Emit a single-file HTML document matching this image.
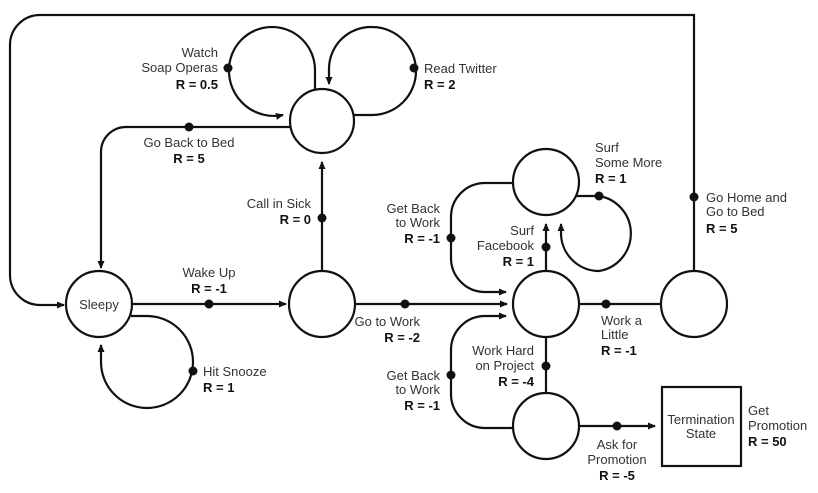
<!DOCTYPE html>
<html><head><style>
html,body{margin:0;padding:0;background:#fff;}
svg text{font-family:"Liberation Sans",sans-serif;font-size:13px;fill:#333;}
svg text.b{font-weight:bold;fill:#111;}
</style></head><body>
<svg width="818" height="488" viewBox="0 0 818 488" xmlns="http://www.w3.org/2000/svg">
<defs>
<marker id="a" markerWidth="8" markerHeight="8" refX="7" refY="4" orient="auto" markerUnits="userSpaceOnUse">
<path d="M0,0.5 L8,4 L0,7.5 Z" fill="#111"/>
</marker>
</defs>
<g fill="none" stroke="#111" stroke-width="2.2">
<!-- nodes -->
<circle cx="99" cy="304" r="33"/>
<circle cx="322" cy="304" r="33"/>
<circle cx="322" cy="121" r="32"/>
<circle cx="546" cy="304" r="33"/>
<circle cx="546" cy="182" r="33"/>
<circle cx="546" cy="426" r="33"/>
<circle cx="694" cy="304" r="33"/>
<rect x="662" y="387" width="79" height="79"/>
<!-- outer loop -->
<path d="M694,271 V15 H40 A30,30 0 0 0 10,45 V275 A30,30 0 0 0 40,305 H64" marker-end="url(#a)"/>
<!-- go back to bed -->
<path d="M290,127 H126 A25,25 0 0 0 101,152 V268" marker-end="url(#a)"/>
<!-- soap -->
<path d="M315,90 V70 A43,43 0 0 0 229,70 A45,45 0 0 0 283,115" marker-end="url(#a)"/>
<!-- twitter -->
<path d="M354,115 H372 A42,42 0 0 0 372,27 A42,42 0 0 0 329,68 V84" marker-end="url(#a)"/>
<!-- call in sick -->
<path d="M322,271 V162" marker-end="url(#a)"/>
<!-- wake up -->
<path d="M132,304 H286" marker-end="url(#a)"/>
<!-- snooze -->
<path d="M131,316 H147 A46,46 0 0 1 193,362 A46,46 0 0 1 147,408 A46,46 0 0 1 101,362 V345" marker-end="url(#a)"/>
<!-- go to work -->
<path d="M355,304 H507" marker-end="url(#a)"/>
<!-- get back upper -->
<path d="M513,183 H485 A34,34 0 0 0 451,217 V258 A34,34 0 0 0 485,292 H506" marker-end="url(#a)"/>
<!-- surf facebook -->
<path d="M546,271 V224" marker-end="url(#a)"/>
<!-- surf some more -->
<path d="M576,196 H599 A38,38 0 0 1 599,271 A38,38 0 0 1 561,233 V224" marker-end="url(#a)"/>
<!-- work a little -->
<path d="M579,304 H661"/>
<!-- work hard -->
<path d="M546,337 V393"/>
<!-- get back lower -->
<path d="M513,428 H485 A34,34 0 0 1 451,394 V350 A34,34 0 0 1 485,316 H506" marker-end="url(#a)"/>
<!-- ask promotion -->
<path d="M579,426 H655" marker-end="url(#a)"/>
</g>
<g fill="#111">
<circle cx="189" cy="127" r="4.5"/>
<circle cx="228" cy="68" r="4.5"/>
<circle cx="414" cy="68" r="4.5"/>
<circle cx="322" cy="218" r="4.5"/>
<circle cx="209" cy="304" r="4.5"/>
<circle cx="193" cy="371" r="4.5"/>
<circle cx="405" cy="304" r="4.5"/>
<circle cx="451" cy="238" r="4.5"/>
<circle cx="546" cy="247" r="4.5"/>
<circle cx="599" cy="196" r="4.5"/>
<circle cx="606" cy="304" r="4.5"/>
<circle cx="694" cy="197" r="4.5"/>
<circle cx="546" cy="366" r="4.5"/>
<circle cx="451" cy="375" r="4.5"/>
<circle cx="617" cy="426" r="4.5"/>
</g>
<g>
<text x="99" y="309" text-anchor="middle">Sleepy</text>
<text x="701" y="424" text-anchor="middle" font-size="12">Termination</text>
<text x="701" y="438" text-anchor="middle" font-size="12">State</text>

<text x="218" y="57" text-anchor="end">Watch</text>
<text x="218" y="72" text-anchor="end">Soap Operas</text>
<text x="218" y="89" text-anchor="end" class="b">R = 0.5</text>

<text x="424" y="73">Read Twitter</text>
<text x="424" y="89" class="b">R = 2</text>

<text x="189" y="147" text-anchor="middle">Go Back to Bed</text>
<text x="189" y="163" text-anchor="middle" class="b">R = 5</text>

<text x="311" y="208" text-anchor="end">Call in Sick</text>
<text x="311" y="224" text-anchor="end" class="b">R = 0</text>

<text x="209" y="277" text-anchor="middle">Wake Up</text>
<text x="209" y="293" text-anchor="middle" class="b">R = -1</text>

<text x="203" y="376">Hit Snooze</text>
<text x="203" y="392" class="b">R = 1</text>

<text x="420" y="326" text-anchor="end">Go to Work</text>
<text x="420" y="342" text-anchor="end" class="b">R = -2</text>

<text x="440" y="213" text-anchor="end">Get Back</text>
<text x="440" y="227" text-anchor="end">to Work</text>
<text x="440" y="243" text-anchor="end" class="b">R = -1</text>

<text x="534" y="235" text-anchor="end">Surf</text>
<text x="534" y="250" text-anchor="end">Facebook</text>
<text x="534" y="266" text-anchor="end" class="b">R = 1</text>

<text x="595" y="152">Surf</text>
<text x="595" y="167">Some More</text>
<text x="595" y="183" class="b">R = 1</text>

<text x="706" y="202">Go Home and</text>
<text x="706" y="216">Go to Bed</text>
<text x="706" y="233" class="b">R = 5</text>

<text x="601" y="325">Work a</text>
<text x="601" y="339">Little</text>
<text x="601" y="355" class="b">R = -1</text>

<text x="534" y="355" text-anchor="end">Work Hard</text>
<text x="534" y="370" text-anchor="end">on Project</text>
<text x="534" y="386" text-anchor="end" class="b">R = -4</text>

<text x="440" y="380" text-anchor="end">Get Back</text>
<text x="440" y="394" text-anchor="end">to Work</text>
<text x="440" y="410" text-anchor="end" class="b">R = -1</text>

<text x="617" y="449" text-anchor="middle">Ask for</text>
<text x="617" y="464" text-anchor="middle">Promotion</text>
<text x="617" y="480" text-anchor="middle" class="b">R = -5</text>

<text x="748" y="415">Get</text>
<text x="748" y="430">Promotion</text>
<text x="748" y="446" class="b">R = 50</text>
</g>
</svg>
</body></html>
